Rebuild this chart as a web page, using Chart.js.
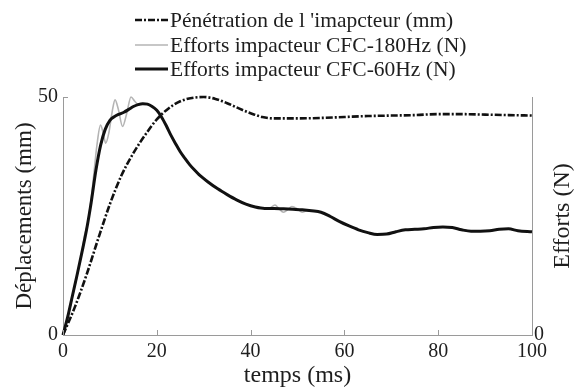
<!DOCTYPE html>
<html>
<head>
<meta charset="utf-8">
<script src="https://cdn.jsdelivr.net/npm/chart.js@4.4.0/dist/chart.umd.min.js"></script>
<style>
  html, body { margin: 0; padding: 0; background: #fff; }
  canvas { display: block; }
</style>
</head>
<body>
<canvas id="c" width="581" height="392"></canvas>
<script>
// Time axis (ms) and measured signals
const tPenetration = [0, 2.5, 5, 7.5, 10, 12.5, 15, 17.5, 20, 22.5, 25, 27.5, 30, 32.5, 35, 37.5, 40, 42.5, 45, 50, 55, 60, 65, 70, 75, 80, 85, 90, 95, 100];
const penetration  = [0, 5.8, 12.6, 20.2, 27.5, 33.6, 38.2, 42.0, 45.3, 47.6, 49.1, 49.8, 50.0, 49.6, 48.7, 47.6, 46.6, 45.8, 45.5, 45.5, 45.6, 45.8, 46.0, 46.1, 46.2, 46.4, 46.4, 46.3, 46.2, 46.1];

const tForce180 = [0, 1, 2, 3, 4, 4.6, 5.2, 6, 6.6, 7.2, 8, 8.6, 9.1, 9.8, 10.5, 11.1, 11.8, 12.7, 13.6, 14.5, 15.3, 16, 17, 18, 19, 20, 21, 22, 23, 24, 25, 26, 27, 28, 29, 31, 33, 35, 37, 39, 41, 43, 44, 45.2, 46, 47, 48, 48.8, 50, 51, 52, 53, 55, 57, 59, 61, 63, 65, 67, 69, 71, 73, 75, 77, 79, 81, 83, 85, 87, 89, 91, 93, 95, 97, 100];
const force180  = [0, 3.6, 8.0, 12.4, 17.4, 21.0, 23.2, 28.6, 34.0, 39.6, 44.1, 42.3, 40.3, 42.6, 47.0, 49.4, 47.4, 43.8, 46.6, 50.0, 49.1, 48.4, 48.6, 48.5, 48.0, 47.2, 45.8, 44.0, 42.0, 40.2, 38.5, 37.1, 35.8, 34.7, 33.7, 32.1, 30.7, 29.5, 28.4, 27.5, 26.9, 26.6, 26.6, 27.3, 26.6, 25.8, 26.4, 27.0, 26.5, 25.8, 26.1, 26.1, 25.8, 24.9, 23.8, 22.9, 22.1, 21.5, 21.1, 21.2, 21.7, 22.1, 22.2, 22.3, 22.6, 22.7, 22.6, 22.1, 21.8, 21.8, 21.9, 22.2, 22.3, 21.9, 21.7];

const tForce60 = [0, 1, 2, 3, 4, 5, 6, 7, 8, 9, 10, 11, 12, 13, 14, 15, 16, 17, 18, 19, 20, 21, 22, 23, 24, 25, 26, 27, 28, 29, 31, 33, 35, 37, 39, 41, 43, 45, 47, 49, 51, 53, 55, 57, 59, 61, 63, 65, 67, 69, 71, 73, 75, 77, 79, 81, 83, 85, 87, 89, 91, 93, 95, 97, 100];
const force60  = [0, 3.8, 8.2, 12.6, 17.2, 22.0, 27.8, 34.5, 39.8, 43.2, 45.1, 45.9, 46.4, 46.8, 47.4, 48.0, 48.4, 48.6, 48.5, 48.0, 47.2, 45.8, 44.0, 42.0, 40.2, 38.5, 37.1, 35.8, 34.7, 33.7, 32.1, 30.7, 29.5, 28.4, 27.5, 26.9, 26.6, 26.6, 26.5, 26.4, 26.3, 26.1, 25.8, 24.9, 23.8, 22.9, 22.1, 21.5, 21.1, 21.2, 21.7, 22.1, 22.2, 22.3, 22.6, 22.7, 22.6, 22.1, 21.8, 21.8, 21.9, 22.2, 22.3, 21.9, 21.7];

// Tick labels
const xTicks = [0, 20, 40, 60, 80, 100];
const yTicksLeft = [0, 50];
const yTicksRight = [0];

const SERIF = '"Liberation Serif", "DejaVu Serif", serif';
const INK = '#1e1e1e';
const AXIS = '#9a9a9a';

const pairs = (ts, vs) => ts.map((t, i) => ({ x: t, y: vs[i] }));
const fixedTicks = list => scale => { scale.ticks = list.map(v => ({ value: v })); };

// Inward tick marks, legend and right-hand axis title
const decorations = {
  id: 'decorations',
  afterDraw(chart) {
    const { ctx, chartArea: a, scales } = chart;
    ctx.save();
    ctx.strokeStyle = AXIS;
    ctx.lineWidth = 1;
    ctx.beginPath();
    scales.x.ticks.forEach(t => {
      const px = Math.round(scales.x.getPixelForValue(t.value)) + 0.5;
      ctx.moveTo(px, a.bottom);
      ctx.lineTo(px, a.bottom - 5);
    });
    scales.y.ticks.forEach(t => {
      const py = Math.round(scales.y.getPixelForValue(t.value)) + 0.5;
      ctx.moveTo(a.left, py);
      ctx.lineTo(a.left + 5, py);
    });
    ctx.stroke();

    // Right axis title, reading bottom to top
    const rt = chart.options.scales.y2.title;
    ctx.fillStyle = INK;
    ctx.font = '24px ' + SERIF;
    ctx.textAlign = 'center';
    ctx.textBaseline = 'middle';
    ctx.translate(563, (a.top + a.bottom) / 2);
    ctx.rotate(-Math.PI / 2);
    ctx.fillText(rt.text, 0, 0);
    ctx.restore();

    // Legend rows
    const rows = [20, 45, 69];
    ctx.save();
    ctx.font = '21.5px ' + SERIF;
    ctx.textAlign = 'left';
    ctx.textBaseline = 'middle';
    chart.data.datasets.forEach((ds, i) => {
      const y = rows[i];
      ctx.beginPath();
      ctx.strokeStyle = ds.borderColor;
      ctx.lineWidth = ds.borderWidth;
      ctx.setLineDash(ds.borderDash || []);
      ctx.moveTo(135, y);
      ctx.lineTo(168, y);
      ctx.stroke();
      ctx.setLineDash([]);
      ctx.fillStyle = INK;
      ctx.fillText(ds.label, 170, y + 1);
    });
    ctx.restore();
  }
};

new Chart(document.getElementById('c'), {
  type: 'line',
  data: {
    datasets: [
      {
        label: "Pénétration de l 'imapcteur (mm)",
        data: pairs(tPenetration, penetration),
        yAxisID: 'y',
        borderColor: '#111',
        borderWidth: 2.6,
        borderDash: [7, 2, 2, 2],
        order: 0
      },
      {
        label: 'Efforts impacteur CFC-180Hz (N)',
        data: pairs(tForce180, force180),
        yAxisID: 'y2',
        borderColor: '#b4b4b4',
        borderWidth: 1.6,
        order: 2
      },
      {
        label: 'Efforts impacteur CFC-60Hz (N)',
        data: pairs(tForce60, force60),
        yAxisID: 'y2',
        borderColor: '#111',
        borderWidth: 3,
        order: 1
      }
    ]
  },
  options: {
    responsive: false,
    animation: false,
    devicePixelRatio: 1,
    events: [],
    layout: { padding: { top: 97, left: 0, right: 0, bottom: 0 } },
    elements: {
      point: { radius: 0 },
      line: { cubicInterpolationMode: 'monotone', fill: false }
    },
    datasets: { line: { clip: false } },
    plugins: { legend: { display: false }, tooltip: { enabled: false } },
    scales: {
      x: {
        type: 'linear', min: 0, max: 100,
        afterBuildTicks: fixedTicks(xTicks),
        afterFit: s => { s.height = 57; },
        grid: { display: true, drawOnChartArea: false, drawTicks: false },
        border: { display: true, color: AXIS, width: 1 },
        ticks: { color: INK, font: { family: SERIF, size: 20 }, padding: 5, maxRotation: 0 },
        title: { display: true, text: 'temps (ms)', color: INK, font: { family: SERIF, size: 24 }, padding: { top: 0, bottom: 2 } }
      },
      y: {
        type: 'linear', position: 'left', min: 0, max: 50,
        afterBuildTicks: fixedTicks(yTicksLeft),
        afterFit: s => { s.width = 63; },
        grid: { display: true, drawOnChartArea: false, drawTicks: false },
        border: { display: true, color: AXIS, width: 1 },
        ticks: { color: INK, font: { family: SERIF, size: 20 }, padding: 5 },
        title: { display: true, text: 'Déplacements (mm)', color: INK, font: { family: SERIF, size: 23 }, padding: { top: 11, bottom: 0 } }
      },
      y2: {
        type: 'linear', position: 'right', min: 0, max: 50,
        afterBuildTicks: fixedTicks(yTicksRight),
        afterFit: s => { s.width = 49; },
        grid: { display: true, drawOnChartArea: false, drawTicks: false },
        border: { display: true, color: AXIS, width: 1 },
        ticks: { color: INK, font: { family: SERIF, size: 20 }, padding: 2 },
        title: { display: false, text: 'Efforts (N)' }
      }
    }
  },
  plugins: [decorations]
});
</script>
</body>
</html>
